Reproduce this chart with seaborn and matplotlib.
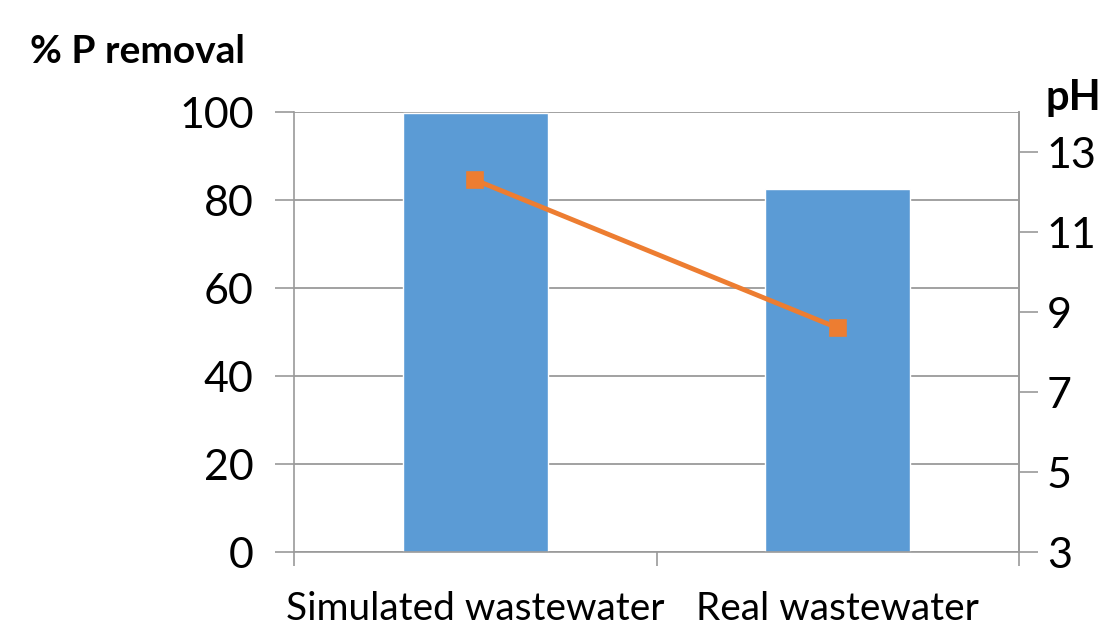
import matplotlib
matplotlib.use("Agg")
import matplotlib.pyplot as plt
import seaborn as sns
import pandas as pd

# Phosphorus removal and pH for the two water types
categories = ["Simulated wastewater", "Real wastewater"]
p_removal = [99.8, 82.4]
ph_values = [12.3, 8.6]
left_ticks = [0, 20, 40, 60, 80, 100]
right_ticks = [3, 5, 7, 9, 11, 13]

df = pd.DataFrame({"sample": categories, "removal": p_removal, "ph": ph_values})

sns.set_theme(style="white")
plt.rcParams["font.family"] = ["Lato", "DejaVu Sans"]

BAR = "#5B9BD5"
LINE = "#ED7D31"
GRID = "#9A9A9A"
TXT = "#000000"

fig = plt.figure(figsize=(11.12, 6.30), dpi=100)
ax = fig.add_axes([0.2644, 0.1238, 0.9164 - 0.2644, 0.8222 - 0.1238])

sns.barplot(data=df, x="sample", y="removal", color=BAR, width=0.4,
            saturation=1, ax=ax, zorder=2)
ax.set_ylim(0, 100)
ax.set_yticks(left_ticks)
ax.set_xlim(-0.5, 1.5)
ax.yaxis.grid(True, color=GRID, linewidth=1.3, zorder=0)
ax.set_axisbelow(True)
ax.set_xlabel("")
ax.set_ylabel("")

# category boundaries carry the x ticks
ax.set_xticks([-0.5, 0.5, 1.5], minor=False)
ax.set_xticklabels([])
ax.set_xticks([0, 1], minor=True)
ax.set_xticklabels(categories, minor=True, fontsize=28, color=TXT)
ax.tick_params(axis="x", which="major", direction="out", length=10,
               width=1.2, color=GRID, bottom=True)
ax.tick_params(axis="x", which="minor", length=0, pad=28, bottom=True)
ax.tick_params(axis="y", direction="out", length=14, width=1.2, color=GRID,
               labelsize=31, labelcolor=TXT, pad=15, left=True)

ax.spines["top"].set_visible(False)
for side in ["left", "bottom", "right"]:
    ax.spines[side].set_color(GRID)
    ax.spines[side].set_linewidth(1.2)

ax2 = ax.twinx()
sns.pointplot(data=df, x="sample", y="ph", color=LINE, markers="s",
              markersize=10, linewidth=3.5, ax=ax2, zorder=3)
ax2.set_ylim(3, 14)
ax2.set_yticks(right_ticks)
ax2.set_xlim(-0.5, 1.5)
ax2.set_ylabel("")
ax2.set_xlabel("")
ax2.tick_params(axis="y", direction="out", length=14, width=1.2, color=GRID,
                labelsize=31, labelcolor=TXT, pad=6, right=True)
for side in ["top", "left", "bottom"]:
    ax2.spines[side].set_visible(False)
ax2.spines["right"].set_color(GRID)
ax2.spines["right"].set_linewidth(1.2)

fig.text(0.027, 0.918, "% P removal", fontsize=28, fontweight="bold",
         color=TXT, ha="left", va="center")
fig.text(0.94, 0.845, "pH", fontsize=30, fontweight="bold",
         color=TXT, ha="left", va="center")

fig.savefig("out.png", dpi=100, facecolor="white")
